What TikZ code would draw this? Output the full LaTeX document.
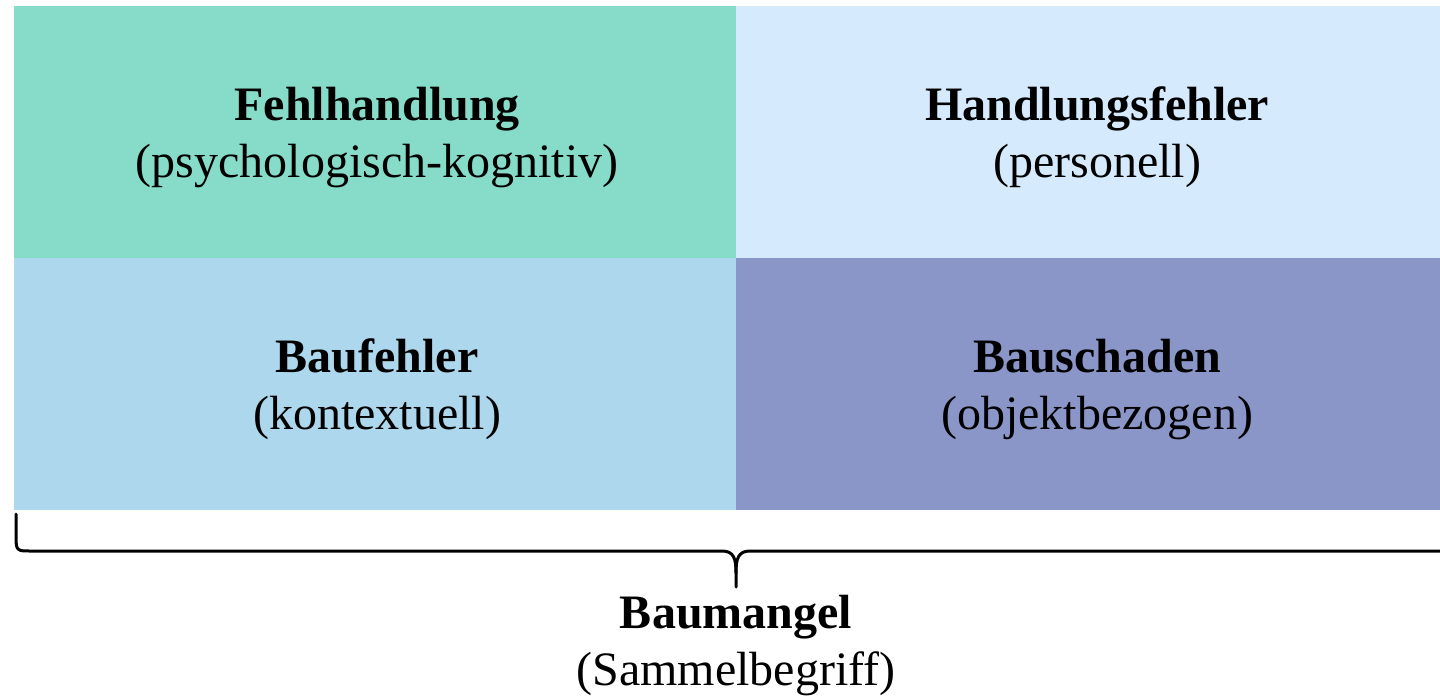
\documentclass[tikz,border=0pt]{standalone}
\usepackage{fontspec}
\setmainfont{Liberation Serif}
\usetikzlibrary{calc}
\definecolor{cTL}{HTML}{86DCC8}
\definecolor{cTR}{HTML}{D6EAFD}
\definecolor{cBL}{HTML}{ADD7EC}
\definecolor{cBR}{HTML}{8A95C8}
\tikzset{
  cell/.style={draw=none, minimum width=722pt, minimum height=252pt, inner sep=0pt, anchor=north west},
  brace/.style={line width=3pt, line cap=round, line join=round},
  lbl/.style={align=center, font=\fontsize{48}{57}\selectfont, inner sep=0pt, anchor=base}
}
\begin{document}
\begin{tikzpicture}[x=1pt,y=-1pt]
\useasboundingbox (0,0) rectangle (1440,696);
\begin{scope}
\clip (0,0) rectangle (1440,696);
\node[cell, fill=cTL] (tl) at (14,6) {};
\node[cell, fill=cTR] (tr) at (736,6) {};
\node[cell, fill=cBL] (bl) at (14,258) {};
\node[cell, fill=cBR] (br) at (736,258) {};
\node[lbl] (tlt) at ($(tl.south)+(2,-81)$) {\textbf{Fehlhandlung}\\(psychologisch-kognitiv)};
\node[lbl] (trt) at ($(tr.south)+(0,-81)$) {\textbf{Handlungsfehler}\\(personell)};
\node[lbl] (blt) at ($(bl.south)+(2,-81)$) {\textbf{Baufehler}\\(kontextuell)};
\node[lbl] (brt) at ($(br.south)+(0,-81)$) {\textbf{Bauschaden}\\(objektbezogen)};
\coordinate (bL) at (16,514);
\coordinate (bM) at (736,587);
\coordinate (bR) at (1456,514);
\draw[brace] (bL) -- ($(bL)+(0,24)$) .. controls ($(bL)+(0,37)$) and ($(bL)+(2,37)$) .. ($(bL)+(14,37)$)
  -- ($(bM)+(-14,-36)$) .. controls ($(bM)+(-2,-36)$) and ($(bM)+(0,-28)$) .. ($(bM)+(0,-14)$) -- (bM);
\draw[brace] (bR) -- ($(bR)+(0,24)$) .. controls ($(bR)+(0,37)$) and ($(bR)+(-2,37)$) .. ($(bR)+(-14,37)$)
  -- ($(bM)+(14,-36)$) .. controls ($(bM)+(2,-36)$) and ($(bM)+(0,-28)$) .. ($(bM)+(0,-14)$);
\node[lbl] (sum) at (736,685) {\textbf{Baumangel}\\(Sammelbegriff)};
\end{scope}
\end{tikzpicture}
\end{document}
